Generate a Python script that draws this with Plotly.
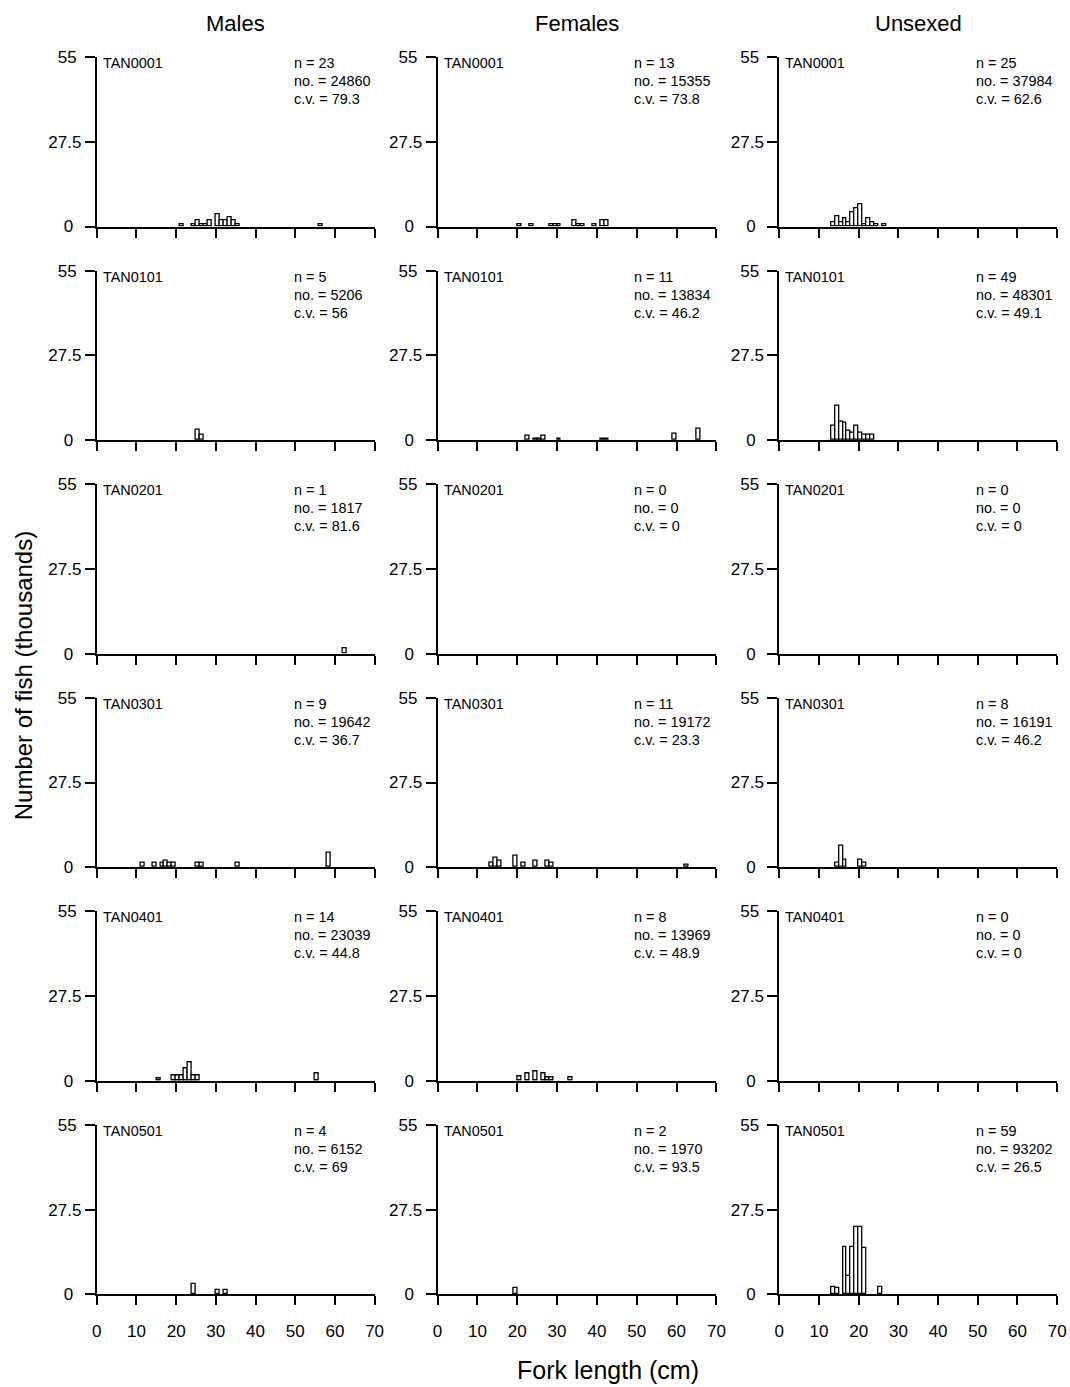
import plotly.graph_objects as go

# ---------------- DATA ----------------
surveys = ["TAN0001", "TAN0101", "TAN0201", "TAN0301", "TAN0401", "TAN0501"]
sexes = ["Males", "Females", "Unsexed"]

# length class (lower bound, cm) and number of fish (thousands) per panel
m0001_len = [21, 24, 25, 26, 27, 28, 30, 31, 32, 33, 34, 35, 56]
m0001_num = [0.9, 0.9, 2.0, 0.9, 0.9, 2.0, 4.1, 2.0, 2.0, 3.0, 2.0, 0.9, 0.9]
f0001_len = [20, 23, 28, 29, 30, 34, 35, 36, 39, 41, 42]
f0001_num = [0.9, 0.9, 0.9, 0.9, 0.9, 2.0, 0.9, 0.9, 0.9, 2.0, 2.0]
u0001_len = [13, 14, 15, 16, 17, 18, 19, 20, 21, 22, 23, 24, 26]
u0001_num = [1.5, 3.3, 1.3, 2.6, 1.3, 4.8, 5.9, 7.4, 0.9, 2.6, 1.5, 0.9, 0.9]

m0101_len = [25, 26]
m0101_num = [3.2, 1.6]
f0101_len = [22, 24, 25, 26, 30, 41, 42, 59, 65]
f0101_num = [1.5, 0.3, 0.3, 1.5, 0.3, 0.3, 0.3, 2.0, 3.8]
u0101_len = [13, 14, 15, 16, 17, 18, 19, 20, 21, 22, 23]
u0101_num = [4.7, 11.2, 5.8, 5.5, 2.9, 2.5, 4.7, 2.5, 1.6, 1.6, 1.6]

m0201_len = [62]
m0201_num = [1.8]
f0201_len = []
f0201_num = []
u0201_len = []
u0201_num = []

m0301_len = [11, 14, 16, 17, 18, 19, 25, 26, 35, 58]
m0301_num = [1.3, 1.3, 1.3, 2.0, 1.3, 1.3, 1.3, 1.3, 1.3, 4.7]
f0301_len = [13, 14, 15, 19, 21, 24, 27, 28, 62]
f0301_num = [1.3, 3.1, 2.0, 3.6, 1.3, 2.0, 2.0, 1.3, 0.9]
u0301_len = [14, 15, 16, 20, 21]
u0301_num = [1.4, 6.9, 2.5, 2.5, 1.4]

m0401_len = [15, 19, 20, 21, 22, 23, 24, 25, 55]
m0401_num = [0.9, 1.6, 1.6, 1.6, 4.1, 5.8, 1.6, 1.6, 2.5]
f0401_len = [20, 22, 24, 26, 27, 28, 33]
f0401_num = [1.5, 2.5, 3.1, 2.5, 1.0, 1.0, 1.0]
u0401_len = []
u0401_num = []

m0501_len = [24, 30, 32]
m0501_num = [3.3, 1.5, 1.3]
f0501_len = [19]
f0501_num = [2.0]
u0501_len = [13, 14, 16, 17, 18, 19, 20, 21, 25]
u0501_num = [2.5, 2.0, 15.5, 6.0, 15.5, 22.0, 22.0, 15.0, 2.5]

male_n = [23, 5, 1, 9, 14, 4]
male_no = [24860, 5206, 1817, 19642, 23039, 6152]
male_cv = [79.3, 56, 81.6, 36.7, 44.8, 69]
female_n = [13, 11, 0, 11, 8, 2]
female_no = [15355, 13834, 0, 19172, 13969, 1970]
female_cv = [73.8, 46.2, 0, 23.3, 48.9, 93.5]
unsexed_n = [25, 49, 0, 8, 0, 59]
unsexed_no = [37984, 48301, 0, 16191, 0, 93202]
unsexed_cv = [62.6, 49.1, 0, 46.2, 0, 26.5]

x_ticks = [0, 10, 20, 30, 40, 50, 60, 70]
y_ticks = [0, 27.5, 55]
y_ticktext = ["0", "27.5", "55"]

# ---------------- FIGURE ----------------
panels = [
    [(m0001_len, m0001_num), (f0001_len, f0001_num), (u0001_len, u0001_num)],
    [(m0101_len, m0101_num), (f0101_len, f0101_num), (u0101_len, u0101_num)],
    [(m0201_len, m0201_num), (f0201_len, f0201_num), (u0201_len, u0201_num)],
    [(m0301_len, m0301_num), (f0301_len, f0301_num), (u0301_len, u0301_num)],
    [(m0401_len, m0401_num), (f0401_len, f0401_num), (u0401_len, u0401_num)],
    [(m0501_len, m0501_num), (f0501_len, f0501_num), (u0501_len, u0501_num)],
]
stats = [(male_n, male_no, male_cv), (female_n, female_no, female_cv),
         (unsexed_n, unsexed_no, unsexed_cv)]

W, H = 1070, 1387
FONT = "Liberation Sans, Arial, sans-serif"
# target pixel geometry (as seen in the photographed page)
col_px = [(94, 372), (435, 714), (777, 1055)]
row_top0, row_step, row_h = 55, 213.8, 169.5

# compensation for the rendering scale observed in the photographed page
S = 0.9875
OX, OY = 2.2, 6.7

def px2x(p):
    return ((p - OX) / S) / W

def px2y(p):
    return 1 - ((p - OY) / S) / H

# pad labels so they appear centred in a common column (as in the original)
y_pad = {"0": "\u00a0\u2009", "27.5": "", "55": "\u00a0"}
y_labels = [t + y_pad.get(t, "") for t in y_ticktext]

fig = go.Figure()
layout = dict(
    width=W, height=H, margin=dict(l=0, r=0, t=0, b=0),
    paper_bgcolor="white", plot_bgcolor="white",
    font=dict(family=FONT, color="black"), showlegend=False,
    bargap=0,
)
annotations = []
TICKF = dict(size=17, family=FONT, color="black")
SMALLF = dict(size=14.4, family=FONT, color="black")

for r in range(6):
    top = row_top0 + r * row_step
    bot = top + row_h
    for c in range(3):
        k = r * 3 + c + 1
        lens, nums = panels[r][c]
        fig.add_trace(go.Bar(
            x=[l + 0.5 for l in lens], y=nums, width=[1] * len(lens),
            marker=dict(color="white", line=dict(color="black", width=1.3)),
            xaxis=f"x{k}", yaxis=f"y{k}", hoverinfo="x+y",
        ))
        x0, x1 = col_px[c]
        layout[f"xaxis{k}"] = dict(
            domain=[px2x(x0), px2x(x1)], range=[0, 70], anchor=f"y{k}",
            tickvals=x_ticks, ticks="outside", ticklen=9, tickwidth=1.5,
            tickcolor="black", showline=True, linecolor="black", linewidth=2,
            showgrid=False, zeroline=False, showticklabels=(r == 5),
            ticklabelstandoff=11, tickfont=TICKF, fixedrange=True,
        )
        layout[f"yaxis{k}"] = dict(
            domain=[px2y(bot), px2y(top)], range=[0, 55], anchor=f"x{k}",
            tickvals=y_ticks, ticktext=y_labels, ticks="outside", ticklen=10,
            tickwidth=1.5, tickcolor="black", showline=True, linecolor="black",
            linewidth=2, showgrid=False, zeroline=False,
            tickfont=TICKF, fixedrange=True,
        )
        annotations.append(dict(
            text=surveys[r], x=px2x(x0 + 4), y=px2y(top + 6), xref="paper",
            yref="paper", xanchor="left", yanchor="middle", showarrow=False,
            font=SMALLF))
        ns, nos, cvs = stats[c]
        lines = [f"n = {ns[r]}", f"no. = {nos[r]}", f"c.v. = {cvs[r]:g}"]
        for i, t in enumerate(lines):
            annotations.append(dict(
                text=t, x=px2x(x0 + 195), y=px2y(top + 6 + 18 * i),
                xref="paper", yref="paper", xanchor="left", yanchor="middle",
                showarrow=False, font=SMALLF))

for c in range(3):
    x0, x1 = col_px[c]
    annotations.append(dict(
        text=sexes[c], x=px2x((x0 + x1) / 2), y=px2y(21), xref="paper",
        yref="paper", xanchor="center", yanchor="middle", showarrow=False,
        font=dict(size=22, family=FONT, color="black")))

annotations.append(dict(
    text="Number of fish (thousands)", x=px2x(21), y=px2y(674), xref="paper",
    yref="paper", xanchor="center", yanchor="middle", textangle=-90,
    showarrow=False, font=dict(size=24, family=FONT, color="black")))
annotations.append(dict(
    text="Fork length (cm)", x=px2x(606), y=px2y(1369), xref="paper",
    yref="paper", xanchor="center", yanchor="middle", showarrow=False,
    font=dict(size=25, family=FONT, color="black")))

layout["annotations"] = annotations
fig.update_layout(**layout)
fig.write_html(
    "out.html",
    config={"displayModeBar": False},
    post_script="document.body.style.margin='0';document.body.style.overflow='hidden';",
)
